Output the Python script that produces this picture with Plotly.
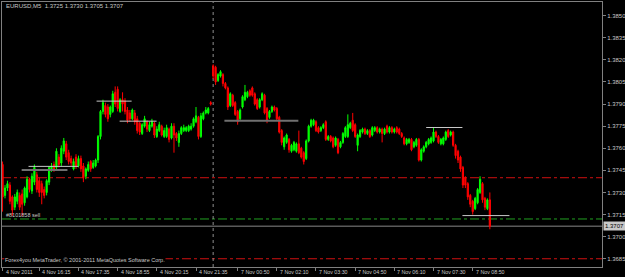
import plotly.graph_objects as go

# ---------------- data (EURUSD M5, 4 Nov 2011 15:00 -> 7 Nov 2011 09:35) ----------------
open_ = [1.3749, 1.3728, 1.3733, 1.3735, 1.3727, 1.3720, 1.3724, 1.3728, 1.3729, 1.3723,
         1.3727, 1.3739, 1.3731, 1.3737, 1.3742, 1.3738, 1.3736, 1.3732, 1.3730, 1.3737,
         1.3746, 1.3749, 1.3747, 1.3754, 1.3750, 1.3758, 1.3763, 1.3757, 1.3753, 1.3746,
         1.3754, 1.3748, 1.3753, 1.3748, 1.3741, 1.3745, 1.3751, 1.3747, 1.3748, 1.3752,
         1.3768, 1.3785, 1.3789, 1.3788, 1.3783, 1.3785, 1.3798, 1.3800, 1.3785, 1.3793,
         1.3792, 1.3786, 1.3784, 1.3780, 1.3784, 1.3780, 1.3777, 1.3770, 1.3775, 1.3778,
         1.3772, 1.3775, 1.3777, 1.3768, 1.3772, 1.3775, 1.3768, 1.3768, 1.3773, 1.3767,
         1.3775, 1.3770, 1.3764, 1.3770, 1.3772, 1.3772, 1.3772, 1.3773, 1.3775, 1.3778,
         1.3781, 1.3768, 1.3780, 1.3784, 1.3784, 1.3791, 1.3816, 1.3815, 1.3806, 1.3809,
         1.3810, 1.3804, 1.3801, 1.3789, 1.3796, 1.3791, 1.3785, 1.3780, 1.3788, 1.3793,
         1.3795, 1.3799, 1.3801, 1.3797, 1.3793, 1.3788, 1.3793, 1.3796, 1.3787, 1.3781,
         1.3785, 1.3788, 1.3787, 1.3781, 1.3772, 1.3761, 1.3764, 1.3766, 1.3758, 1.3759,
         1.3758, 1.3763, 1.3760, 1.3757, 1.3753, 1.3765, 1.3775, 1.3776, 1.3778, 1.3774,
         1.3772, 1.3774, 1.3778, 1.3766, 1.3768, 1.3767, 1.3762, 1.3766, 1.3761, 1.3764,
         1.3768, 1.3768, 1.3774, 1.3779, 1.3776, 1.3762, 1.3768, 1.3771, 1.3773, 1.3770,
         1.3772, 1.3769, 1.3772, 1.3774, 1.3771, 1.3773, 1.3770, 1.3775, 1.3771, 1.3774,
         1.3771, 1.3774, 1.3773, 1.3770, 1.3767, 1.3763, 1.3764, 1.3766, 1.3761, 1.3762,
         1.3766, 1.3752, 1.3758, 1.3761, 1.3763, 1.3764, 1.3765, 1.3771, 1.3768, 1.3763,
         1.3763, 1.3766, 1.3772, 1.3769, 1.3771, 1.3762, 1.3758, 1.3754, 1.3747, 1.3740,
         1.3736, 1.3728, 1.3724, 1.3719, 1.3723, 1.3730, 1.3736, 1.3726, 1.3719, 1.3725]

close = [1.3727, 1.3733, 1.3736, 1.3724, 1.3718, 1.3727, 1.3730, 1.3720, 1.3722, 1.3733,
         1.3739, 1.3732, 1.3741, 1.3747, 1.3732, 1.3730, 1.3730, 1.3728, 1.3738, 1.3747,
         1.3748, 1.3746, 1.3758, 1.3749, 1.3760, 1.3765, 1.3754, 1.3751, 1.3750, 1.3751,
         1.3748, 1.3753, 1.3746, 1.3740, 1.3746, 1.3749, 1.3746, 1.3750, 1.3752, 1.3768,
         1.3785, 1.3791, 1.3783, 1.3780, 1.3788, 1.3797, 1.3790, 1.3787, 1.3793, 1.3790,
         1.3785, 1.3779, 1.3780, 1.3786, 1.3778, 1.3772, 1.3771, 1.3776, 1.3780, 1.3773,
         1.3776, 1.3778, 1.3769, 1.3773, 1.3776, 1.3769, 1.3772, 1.3774, 1.3766, 1.3775,
         1.3769, 1.3767, 1.3770, 1.3774, 1.3774, 1.3774, 1.3775, 1.3775, 1.3780, 1.3782,
         1.3768, 1.3782, 1.3784, 1.3786, 1.3787, 1.3790, 1.3809, 1.3805, 1.3810, 1.3812,
         1.3804, 1.3801, 1.3788, 1.3797, 1.3789, 1.3783, 1.3778, 1.3786, 1.3795, 1.3798,
         1.3798, 1.3796, 1.3796, 1.3790, 1.3787, 1.3793, 1.3797, 1.3784, 1.3779, 1.3785,
         1.3788, 1.3786, 1.3780, 1.3771, 1.3764, 1.3767, 1.3769, 1.3759, 1.3762, 1.3764,
         1.3763, 1.3757, 1.3754, 1.3751, 1.3765, 1.3775, 1.3779, 1.3779, 1.3772, 1.3771,
         1.3774, 1.3776, 1.3766, 1.3768, 1.3765, 1.3761, 1.3767, 1.3757, 1.3764, 1.3770,
         1.3774, 1.3776, 1.3777, 1.3772, 1.3768, 1.3769, 1.3772, 1.3773, 1.3770, 1.3772,
         1.3768, 1.3774, 1.3774, 1.3771, 1.3773, 1.3770, 1.3773, 1.3771, 1.3774, 1.3771,
         1.3773, 1.3771, 1.3770, 1.3768, 1.3763, 1.3766, 1.3766, 1.3759, 1.3764, 1.3766,
         1.3752, 1.3759, 1.3761, 1.3764, 1.3766, 1.3767, 1.3771, 1.3768, 1.3764, 1.3766,
         1.3767, 1.3771, 1.3768, 1.3771, 1.3762, 1.3755, 1.3752, 1.3746, 1.3735, 1.3735,
         1.3727, 1.3722, 1.3717, 1.3726, 1.3732, 1.3739, 1.3725, 1.3720, 1.3725, 1.3707]

high = [1.3751, 1.3735, 1.3738, 1.3737, 1.3728, 1.3729, 1.3732, 1.3730, 1.3732, 1.3734,
        1.3741, 1.3740, 1.3743, 1.3749, 1.3744, 1.3740, 1.3738, 1.3734, 1.3739, 1.3748,
        1.3750, 1.3751, 1.3760, 1.3756, 1.3762, 1.3767, 1.3765, 1.3759, 1.3755, 1.3753,
        1.3756, 1.3755, 1.3755, 1.3750, 1.3747, 1.3751, 1.3752, 1.3752, 1.3753, 1.3769,
        1.3786, 1.3793, 1.3791, 1.3790, 1.3789, 1.3799, 1.3802, 1.3802, 1.3794, 1.3798,
        1.3794, 1.3788, 1.3786, 1.3787, 1.3786, 1.3782, 1.3778, 1.3777, 1.3782, 1.3779,
        1.3778, 1.3780, 1.3778, 1.3775, 1.3778, 1.3776, 1.3774, 1.3776, 1.3774, 1.3777,
        1.3777, 1.3771, 1.3772, 1.3775, 1.3776, 1.3775, 1.3776, 1.3777, 1.3781, 1.3788,
        1.3782, 1.3784, 1.3785, 1.3788, 1.3788, 1.3792, 1.3817, 1.3816, 1.3811, 1.3813,
        1.3811, 1.3805, 1.3802, 1.3798, 1.3797, 1.3792, 1.3786, 1.3787, 1.3796, 1.3803,
        1.3799, 1.3800, 1.3802, 1.3798, 1.3794, 1.3794, 1.3798, 1.3797, 1.3788, 1.3786,
        1.3789, 1.3789, 1.3788, 1.3782, 1.3773, 1.3768, 1.3770, 1.3767, 1.3763, 1.3765,
        1.3764, 1.3772, 1.3761, 1.3758, 1.3766, 1.3776, 1.3780, 1.3780, 1.3779, 1.3775,
        1.3775, 1.3777, 1.3779, 1.3769, 1.3769, 1.3768, 1.3768, 1.3767, 1.3765, 1.3771,
        1.3775, 1.3783, 1.3778, 1.3784, 1.3777, 1.3770, 1.3773, 1.3774, 1.3774, 1.3773,
        1.3773, 1.3775, 1.3775, 1.3775, 1.3774, 1.3774, 1.3774, 1.3776, 1.3775, 1.3775,
        1.3774, 1.3775, 1.3774, 1.3771, 1.3768, 1.3767, 1.3767, 1.3767, 1.3765, 1.3767,
        1.3767, 1.3760, 1.3762, 1.3765, 1.3767, 1.3768, 1.3774, 1.3772, 1.3769, 1.3767,
        1.3768, 1.3772, 1.3773, 1.3772, 1.3772, 1.3763, 1.3759, 1.3755, 1.3748, 1.3741,
        1.3737, 1.3729, 1.3725, 1.3727, 1.3733, 1.3741, 1.3737, 1.3727, 1.3726, 1.3730]

low = [1.3717, 1.3726, 1.3731, 1.3722, 1.3714, 1.3718, 1.3722, 1.3718, 1.3714, 1.3721,
       1.3726, 1.3730, 1.3729, 1.3735, 1.3730, 1.3727, 1.3722, 1.3726, 1.3728, 1.3735,
       1.3744, 1.3744, 1.3745, 1.3747, 1.3748, 1.3756, 1.3752, 1.3749, 1.3748, 1.3745,
       1.3746, 1.3747, 1.3744, 1.3737, 1.3739, 1.3744, 1.3744, 1.3746, 1.3747, 1.3750,
       1.3766, 1.3783, 1.3781, 1.3778, 1.3781, 1.3784, 1.3788, 1.3785, 1.3784, 1.3785,
       1.3783, 1.3777, 1.3778, 1.3779, 1.3776, 1.3770, 1.3769, 1.3769, 1.3774, 1.3771,
       1.3771, 1.3774, 1.3767, 1.3767, 1.3771, 1.3768, 1.3767, 1.3767, 1.3764, 1.3766,
       1.3757, 1.3765, 1.3761, 1.3769, 1.3771, 1.3771, 1.3771, 1.3772, 1.3774, 1.3777,
       1.3766, 1.3767, 1.3779, 1.3783, 1.3783, 1.3789, 1.3807, 1.3803, 1.3805, 1.3808,
       1.3802, 1.3800, 1.3786, 1.3788, 1.3788, 1.3782, 1.3776, 1.3779, 1.3787, 1.3792,
       1.3794, 1.3795, 1.3795, 1.3789, 1.3786, 1.3787, 1.3792, 1.3783, 1.3777, 1.3780,
       1.3784, 1.3785, 1.3779, 1.3770, 1.3762, 1.3759, 1.3763, 1.3757, 1.3757, 1.3758,
       1.3757, 1.3756, 1.3753, 1.3749, 1.3752, 1.3764, 1.3774, 1.3775, 1.3771, 1.3770,
       1.3771, 1.3773, 1.3765, 1.3765, 1.3764, 1.3760, 1.3761, 1.3756, 1.3760, 1.3763,
       1.3767, 1.3767, 1.3773, 1.3771, 1.3767, 1.3758, 1.3767, 1.3770, 1.3769, 1.3769,
       1.3767, 1.3768, 1.3771, 1.3770, 1.3770, 1.3764, 1.3769, 1.3770, 1.3770, 1.3770,
       1.3770, 1.3770, 1.3769, 1.3767, 1.3762, 1.3762, 1.3763, 1.3758, 1.3760, 1.3761,
       1.3751, 1.3751, 1.3757, 1.3760, 1.3762, 1.3763, 1.3764, 1.3767, 1.3763, 1.3762,
       1.3762, 1.3765, 1.3767, 1.3768, 1.3761, 1.3753, 1.3750, 1.3744, 1.3733, 1.3733,
       1.3725, 1.3720, 1.3715, 1.3718, 1.3722, 1.3729, 1.3723, 1.3718, 1.3718, 1.3705]

bar_index = list(range(len(close)))

# time-axis labels (bar index where each label sits, and its text)
tick_bars = [0, 15, 31, 47, 63, 79, 96, 112, 128, 144, 160, 176, 192]
tick_labels = ["4 Nov 2011", "4 Nov 16:15", "4 Nov 17:35", "4 Nov 18:55", "4 Nov 20:15",
               "4 Nov 21:35", "7 Nov 00:50", "7 Nov 02:10", "7 Nov 03:30", "7 Nov 04:50",
               "7 Nov 06:10", "7 Nov 07:30", "7 Nov 08:50"]

price_ticks = [1.3685, 1.3700, 1.3715, 1.3730, 1.3745, 1.3760, 1.3775, 1.3790,
               1.3805, 1.3820, 1.3835, 1.3850]

day_separator_bar = 86           # first bar of 7 Nov
last_bid = 1.3707

# order / level lines (prices)
red_levels = [1.3740, 1.3685]
green_levels = [1.3712]

# short horizontal trend lines: start bar, end bar, price, kind
seg_start = [10.6, 7.8, 38.4, 47.8, 90.6, 173.0, 187.8]
seg_end = [31.0, 26.5, 52.7, 62.9, 120.8, 187.8, 207.0]
seg_price = [1.37477, 1.37452, 1.37920, 1.37784, 1.37786, 1.37741, 1.37143]
seg_kind = ["light", "dark", "light", "light", "dark", "light", "light"]

header_text = "EURUSD,M5  1.3725 1.3730 1.3705 1.3707"
order_text = "#8101858 sell"
footer_text = "Forex4you MetaTrader, © 2001-2011 MetaQuotes Software Corp."

# ---------------- figure ----------------
FONT = "Liberation Sans"
TXT = "#c8c8c8"
FRAME = "#808080"

fig = go.Figure()
fig.add_trace(go.Candlestick(
    x=bar_index, open=open_, high=high, low=low, close=close,
    increasing=dict(line=dict(color="#00ff00", width=1), fillcolor="#00ff00"),
    decreasing=dict(line=dict(color="#ff0000", width=1), fillcolor="#ff0000"),
    whiskerwidth=0, hoverinfo="skip",
))

shapes = []
for p in red_levels:
    shapes.append(dict(type="line", xref="paper", x0=0, x1=1, yref="y", y0=p, y1=p,
                       line=dict(color="#d01010", width=1, dash="dashdot"), layer="below"))
for p in green_levels:
    shapes.append(dict(type="line", xref="paper", x0=0, x1=1, yref="y", y0=p, y1=p,
                       line=dict(color="#20a020", width=1, dash="dashdot"), layer="below"))
shapes.append(dict(type="line", xref="paper", x0=0, x1=1, yref="y", y0=last_bid, y1=last_bid,
                   line=dict(color="#5a5a5a", width=1.5), layer="below"))
shapes.append(dict(type="line", xref="x", x0=day_separator_bar, x1=day_separator_bar,
                   yref="paper", y0=0, y1=1,
                   line=dict(color="#909090", width=1, dash="dot"), layer="below"))
for s, e, p, k in zip(seg_start, seg_end, seg_price, seg_kind):
    if k == "light":
        ln = dict(color="#c8c8c8", width=1)
    else:
        ln = dict(color="#707070", width=2)
    shapes.append(dict(type="line", xref="x", x0=s, x1=e, yref="y", y0=p, y1=p,
                       line=ln, layer="above"))

annotations = [
    dict(text=header_text, xref="paper", yref="paper", x=0.003, y=0.985,
         xanchor="left", yanchor="middle", showarrow=False,
         font=dict(family=FONT, size=6, color=TXT)),
    dict(text=order_text, xref="paper", yref="paper", x=0.004, y=0.198,
         xanchor="left", yanchor="middle", showarrow=False,
         font=dict(family=FONT, size=5.5, color=TXT)),
    dict(text=footer_text, xref="paper", yref="paper", x=0.004, y=0.028,
         xanchor="left", yanchor="middle", showarrow=False, bgcolor="#000000",
         borderpad=0, font=dict(family=FONT, size=5.5, color=TXT)),
    dict(text=f"{last_bid:.4f}", xref="paper", yref="y", x=1, xshift=1, y=last_bid,
         xanchor="left", yanchor="middle", showarrow=False, bgcolor="#c8c8c8",
         borderpad=1, font=dict(family=FONT, size=6, color="#000000")),
]
# time labels, left-aligned on their tick marks (MetaTrader style)
for b, t in zip(tick_bars, tick_labels):
    annotations.append(dict(text=t, xref="x", yref="paper", x=b, y=-0.017,
                            xanchor="left", yanchor="middle", xshift=1, showarrow=False,
                            font=dict(family=FONT, size=5.3, color=TXT)))

fig.update_layout(
    width=625, height=277,
    margin=dict(l=2, r=23, t=2, b=10, pad=0),
    paper_bgcolor="#000000", plot_bgcolor="#000000",
    showlegend=False,
    shapes=shapes, annotations=annotations,
    xaxis=dict(
        range=[-0.23, 244.8], rangeslider=dict(visible=False),
        showgrid=False, zeroline=False,
        tickmode="array", tickvals=tick_bars, showticklabels=False,
        ticks="outside", ticklen=3, tickcolor=FRAME, tickwidth=1,
        showline=True, linecolor=FRAME, linewidth=1, mirror=True,
        automargin=False, fixedrange=True,
    ),
    yaxis=dict(
        range=[1.36794, 1.38593], side="right",
        showgrid=False, zeroline=False,
        tickmode="array", tickvals=price_ticks, tickformat=".4f",
        ticks="outside", ticklen=3, tickcolor=FRAME, tickwidth=1,
        tickfont=dict(family=FONT, size=6, color=TXT),
        showline=True, linecolor=FRAME, linewidth=1, mirror=True,
        automargin=False, fixedrange=True,
    ),
)

fig.write_html("out.html")
